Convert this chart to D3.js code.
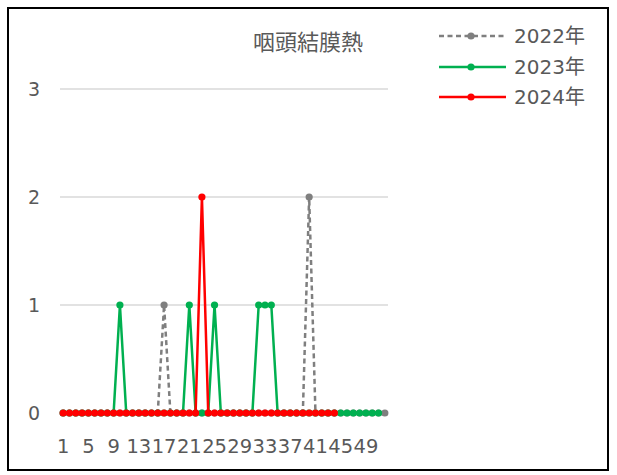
<!DOCTYPE html>
<html><head><meta charset="utf-8">
<script src="https://cdn.jsdelivr.net/npm/d3@7"></script>
<style>body{margin:0;background:#fff}svg{display:block}</style>
</head><body>
<svg id="c" width="617" height="475"></svg>
<script>
const weeks = [1,2,3,4,5,6,7,8,9,10,11,12,13,14,15,16,17,18,19,20,21,22,23,24,25,26,27,28,29,30,31,32,33,34,35,36,37,38,39,40,41,42,43,44,45,46,47,48,49,50,51,52];
const tickLabels = [1,5,9,13,17,21,25,29,33,37,41,45,49];
const yTicks = [0,1,2,3];
const title = "咽頭結膜熱";
const seriesNames = ["2022年","2023年","2024年"];
const v2022 = [0,0,0,0,0,0,0,0,0,0,0,0,0,0,0,0,1,0,0,0,0,0,0,0,0,0,0,0,0,0,0,0,0,0,0,0,0,0,0,2,0,0,0,0,0,0,0,0,0,0,0,0];
const v2023 = [0,0,0,0,0,0,0,0,0,1,0,0,0,0,0,0,0,0,0,0,1,0,0,0,1,0,0,0,0,0,0,1,1,1,0,0,0,0,0,0,0,0,0,0,0,0,0,0,0,0,0];
const v2024 = [0,0,0,0,0,0,0,0,0,0,0,0,0,0,0,0,0,0,0,0,0,0,2,0,0,0,0,0,0,0,0,0,0,0,0,0,0,0,0,0,0,0,0,0];
const colors = ["#7f7f7f","#00b050","#ff0000"];

const svg = d3.select("#c");
const font = "'DejaVu Sans','Noto Sans CJK JP',sans-serif";
const cjkFont = "'Noto Sans CJK JP',sans-serif";
const textCol = "#595959";

svg.append("rect").attr("x",8).attr("y",8).attr("width",600).attr("height",462)
  .attr("fill","none").attr("stroke","#000").attr("stroke-width",2);

const x = d3.scaleBand().domain(weeks).range([60,388]).padding(0);
const cx = d => x(d) + x.bandwidth()/2;
const y = d3.scaleLinear().domain([0,3]).range([413,89]);

// gridlines
svg.append("g").selectAll("line").data(yTicks.filter(d=>d>0)).join("line")
  .attr("x1",60).attr("x2",388).attr("y1",d=>y(d)).attr("y2",d=>y(d))
  .attr("stroke","#d9d9d9").attr("stroke-width",1.5);

// y axis
const yAxis = d3.axisLeft(y).tickValues(yTicks).tickSize(0).tickPadding(0).tickFormat(d3.format("d"));
const yg = svg.append("g").attr("transform","translate(40,0)").call(yAxis);
yg.select(".domain").remove();
yg.selectAll("text").attr("font-family",font).attr("font-size",19).attr("fill",textCol);

// x axis
const xAxis = d3.axisBottom(x).tickValues(tickLabels).tickSize(0).tickPadding(0);
const xg = svg.append("g").attr("transform","translate(0,453)").call(xAxis);
xg.select(".domain").remove();
xg.selectAll("text").attr("font-family",font).attr("font-size",19.5).attr("fill",textCol).attr("dy","0").attr("y",0);

const data = [v2022, v2023, v2024];
const line = d3.line().x((d,i)=>cx(weeks[i])).y(d=>y(d));
data.forEach((vals,si)=>{
  const g = svg.append("g");
  g.append("path").datum(vals).attr("d",line).attr("fill","none")
    .attr("stroke",colors[si]).attr("stroke-width",2.5)
    .attr("stroke-dasharray", si===0 ? "5,3.5" : null);
  g.selectAll("circle").data(vals).join("circle")
    .attr("cx",(d,i)=>cx(weeks[i])).attr("cy",d=>y(d)).attr("r",3.6)
    .attr("fill",colors[si]);
});

// title
svg.append("text").attr("x",253).attr("y",42).attr("dy","0.35em")
  .attr("font-family",cjkFont).attr("font-size",22).attr("fill",textCol).text(title);

// legend
const ly = [36,67,97];
seriesNames.forEach((n,i)=>{
  const g = svg.append("g");
  g.append("line").attr("x1",439).attr("x2",506).attr("y1",ly[i]).attr("y2",ly[i])
    .attr("stroke",colors[i]).attr("stroke-width",2.5)
    .attr("stroke-dasharray", i===0 ? "5,3.5" : null);
  g.append("circle").attr("cx",471).attr("cy",ly[i]).attr("r",3.6).attr("fill",colors[i]);
  g.append("text").attr("x",514).attr("y",ly[i]).attr("dy","0.35em")
    .attr("font-family",font).attr("font-size",20).attr("fill",textCol).text(n);
});
</script>
</body></html>
